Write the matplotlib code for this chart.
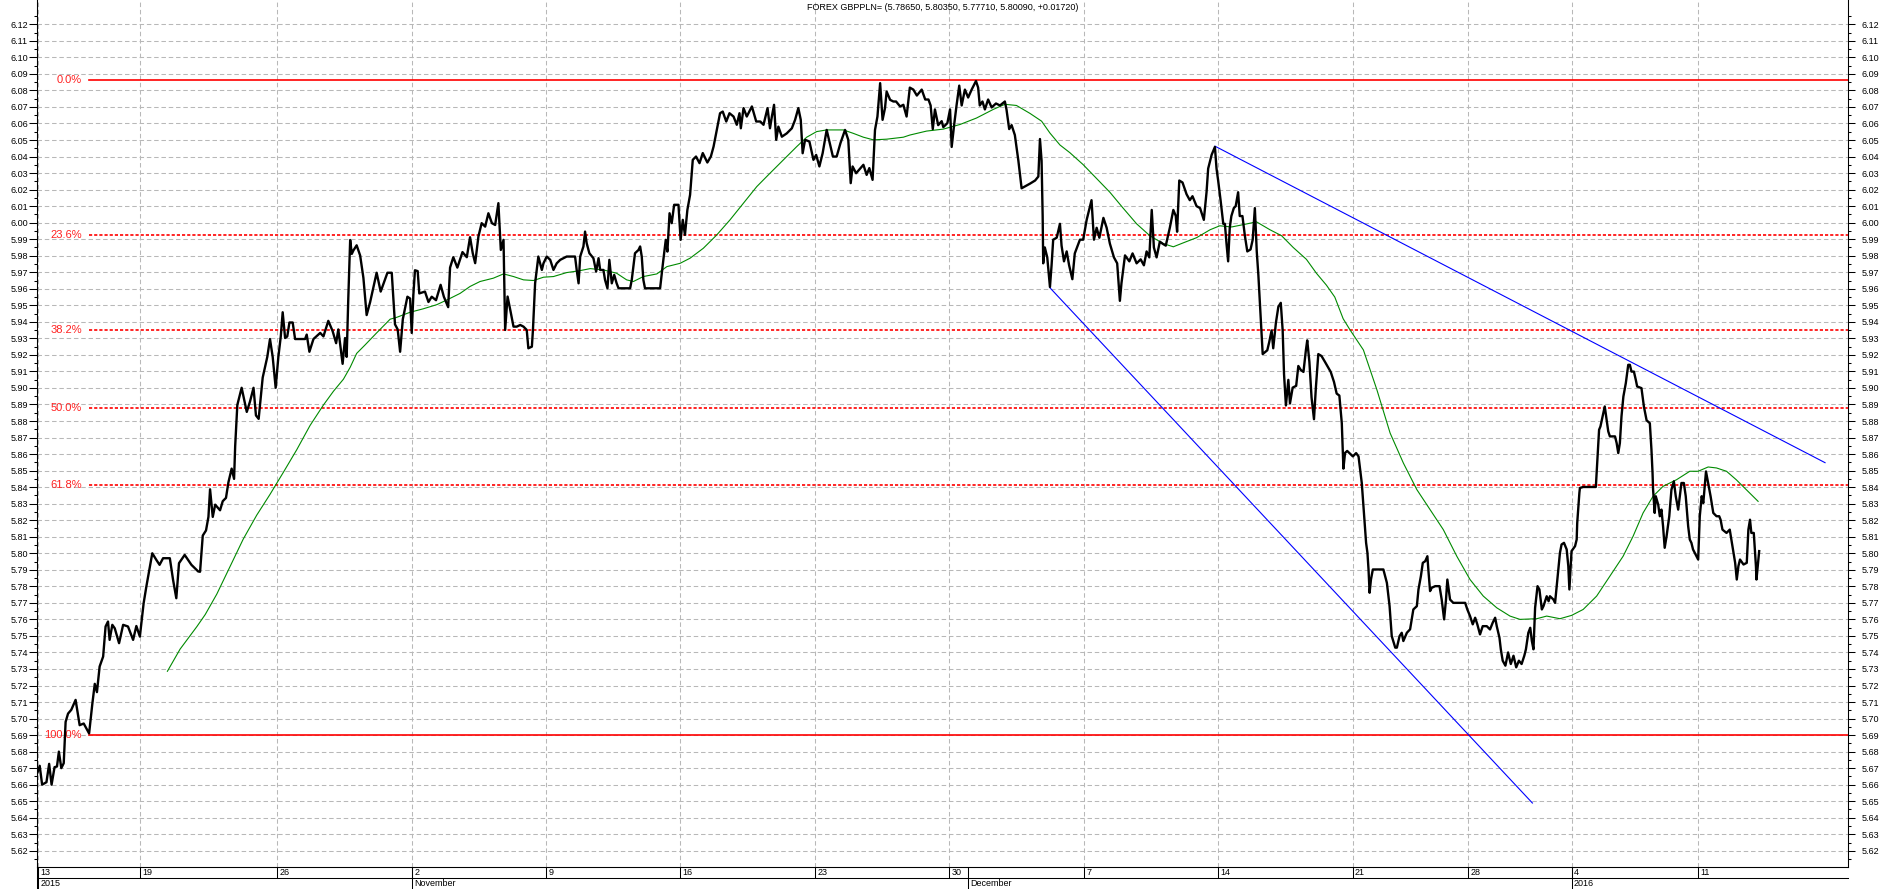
import matplotlib
matplotlib.use("Agg")
import matplotlib.pyplot as plt
import matplotlib.transforms as mtransforms
import numpy as np

plt.rcParams['font.family'] = ['Liberation Sans', 'DejaVu Sans']

# x axis is in trading-session units (0 = 13 Oct 2015)
tick_pos = [0.0, 3.79, 8.86, 13.86, 18.83, 23.79, 28.79, 33.75, 38.75, 43.71, 48.70, 52.98, 56.80, 61.50]
tick_lbl = ['13', '19', '26', '2', '9', '16', '23', '30', '7', '14', '21', '28', '4', '11']
month_pos = [0.0, 13.86, 34.46, 56.80]
month_lbl = ['2015', 'November', 'December', '2016']

title = "FOREX GBPPLN= (5.78650, 5.80350, 5.77710, 5.80090, +0.01720)"

# close price
close_x = [
    -0.04, 0.06, 0.15, 0.31, 0.41, 0.50, 0.61, 0.70, 0.77, 0.86, 0.95, 1.02, 1.11, 1.23, 1.39, 1.54,
    1.69, 1.89, 2.01, 2.10, 2.18, 2.28, 2.41, 2.50, 2.59, 2.65, 2.75, 2.84, 3.00, 3.15, 3.33, 3.52,
    3.64, 3.77, 3.91, 4.01, 4.23, 4.38, 4.50, 4.63, 4.88, 5.00, 5.12, 5.22, 5.43, 5.68, 5.93,
    6.0, 6.1, 6.22, 6.31, 6.37, 6.47, 6.56, 6.74, 6.84, 6.96, 7.05, 7.17, 7.26, 7.30, 7.38, 7.54,
    7.73, 7.85, 7.98, 8.07, 8.17, 8.32, 8.49, 8.59, 8.69, 8.80, 8.90, 8.99, 9.06, 9.15, 9.23, 9.31,
    9.43, 9.52, 9.89, 9.95, 10.05, 10.20, 10.45, 10.57, 10.75, 10.91, 11.04, 11.12, 11.28, 11.37,
    11.43, 11.49, 11.56, 11.62, 11.68, 11.80, 11.93, 12.05, 12.17, 12.30, 12.54, 12.69, 12.94,
    13.10, 13.22, 13.32, 13.41, 13.51, 13.68, 13.78, 13.84, 13.90, 13.96, 14.06, 14.12, 14.33,
    14.46, 14.58, 14.74, 14.91, 15.03, 15.19, 15.26, 15.38, 15.53, 15.72, 15.88,
    16.0, 16.1, 16.19, 16.31, 16.43, 16.56, 16.68, 16.81, 16.93, 17.05, 17.14, 17.24, 17.3, 17.39,
    17.49, 17.61, 17.73, 17.86, 17.98, 18.10, 18.16, 18.29, 18.33, 18.41, 18.53, 18.66, 18.72,
    18.84, 18.97, 19.09, 19.21, 19.34, 19.58, 19.89, 19.95, 20.02, 20.08, 20.2, 20.26, 20.32,
    20.42, 20.57, 20.67, 20.76, 20.82, 20.94, 21.0, 21.09, 21.16, 21.25, 21.34, 21.43, 21.5,
    21.93, 21.99, 22.11, 22.24, 22.30, 22.36, 22.42, 22.48, 23.04, 23.16, 23.25, 23.31, 23.39,
    23.47, 23.56, 23.72, 23.80, 23.88, 23.96, 24.05, 24.15, 24.25, 24.37, 24.50, 24.62, 24.79,
    24.92, 25.02, 25.14, 25.26, 25.36, 25.49, 25.61, 25.76, 25.88, 25.98, 26.03, 26.13, 26.25,
    26.44, 26.6, 26.75, 26.87, 27.02, 27.11, 27.18, 27.26, 27.34, 27.42, 27.55, 27.73, 27.92,
    28.04, 28.16, 28.25, 28.32, 28.41, 28.57, 28.72, 28.82, 28.94, 29.06, 29.21, 29.34, 29.44,
    29.58, 29.72, 29.89, 30.01, 30.10, 30.17, 30.30, 30.57, 30.69, 30.79, 30.91, 31.0, 31.09,
    31.19, 31.28, 31.37, 31.43, 31.56, 31.68, 31.78, 31.93, 32.05, 32.17,
    32.29, 32.42, 32.55, 32.73, 32.86, 32.98, 33.06, 33.14, 33.22, 33.34, 33.47, 33.53, 33.68,
    33.78, 33.84, 33.93, 34.02, 34.12, 34.21, 34.33, 34.45, 34.58, 34.74, 34.82, 34.88, 34.98,
    35.07, 35.19, 35.32, 35.48, 35.63, 35.81, 35.87, 35.97, 36.06, 36.18, 36.31, 36.43, 36.56,
    36.74, 36.93, 37.05, 37.11, 37.17, 37.21, 37.23, 37.29, 37.38, 37.48, 37.54, 37.60, 37.73,
    37.85, 37.91, 38.0, 38.10, 38.19, 38.31, 38.40, 38.59, 38.71, 38.84, 39.02, 39.11, 39.21,
    39.31, 39.46, 39.58, 39.70, 39.85, 39.97, 40.07, 40.13, 40.26, 40.42, 40.54, 40.69, 40.84,
    40.96, 41.06, 41.16, 41.25, 41.33, 41.43, 41.55, 41.65, 41.77, 41.92, 42.05, 42.14, 42.19,
    42.27, 42.39, 42.54, 42.66, 42.76, 42.91, 43.04, 43.18, 43.28, 43.34, 43.47, 43.59, 43.65,
    43.71, 43.80, 43.90, 43.96, 44.02, 44.08, 44.14, 44.20, 44.29, 44.36, 44.45, 44.51, 44.61,
    44.70, 44.79, 44.91, 44.99, 45.07, 45.14, 45.20, 45.29, 45.36, 45.45, 45.53, 45.60, 45.69,
    45.75, 45.85, 45.94, 46.03, 46.10, 46.15, 46.22, 46.31, 46.37, 46.47, 46.60, 46.68, 46.77,
    46.87, 46.96, 47.01, 47.09, 47.17, 47.26, 47.33, 47.42, 47.54, 47.67, 47.88, 48.0, 48.10,
    48.20, 48.29, 48.35, 48.41, 48.49,
    48.60, 48.70, 48.82, 48.91, 49.03, 49.12, 49.19, 49.24, 49.28, 49.32, 49.37, 49.44, 49.83,
    49.96, 50.06, 50.14, 50.27, 50.33, 50.43, 50.51, 50.57, 50.70, 50.82, 50.94, 51.07, 51.13,
    51.22, 51.29, 51.38, 51.46, 51.50, 51.56, 51.62, 51.75, 51.91, 51.99, 52.08, 52.15, 52.20,
    52.30, 52.42, 52.86, 52.94, 53.04, 53.14, 53.23, 53.31, 53.41, 53.51, 53.66, 53.78, 53.88,
    53.97, 54.03, 54.13, 54.18, 54.25, 54.35, 54.45, 54.55, 54.65, 54.75, 54.85, 54.95, 55.05,
    55.11, 55.20, 55.27, 55.33, 55.39, 55.45, 55.54, 55.61, 55.70, 55.76, 55.88, 55.95, 56.0,
    56.13, 56.19, 56.25, 56.31, 56.37, 56.43, 56.52, 56.62, 56.68, 56.72, 56.77, 56.80, 56.93,
    56.99, 57.01, 57.09, 57.11, 57.23, 57.70, 57.75, 57.82, 57.87, 57.95, 58.03, 58.10, 58.16,
    58.22, 58.41, 58.47, 58.53, 58.59, 58.65, 58.72, 58.81, 58.90, 58.96, 59.02, 59.11, 59.18,
    59.23, 59.39, 59.48, 59.58, 59.70, 59.76, 59.80, 59.82, 59.88, 59.92, 60.01, 60.07, 60.13,
    60.19, 60.25, 60.32, 60.42, 60.50, 60.59, 60.66, 60.75, 60.81, 60.87, 60.96, 61.03, 61.12,
    61.18, 61.24, 61.30, 61.43, 61.49, 61.55, 61.62, 61.68, 61.78, 61.86, 61.95, 62.05, 62.17,
    62.27, 62.32, 62.39, 62.54, 62.66, 62.78, 62.86, 62.92, 62.98, 63.04, 63.17, 63.29, 63.35,
    63.41, 63.46, 63.55, 63.63, 63.65, 63.71, 63.75,
]
close_y = [
    5.6666, 5.6714, 5.660, 5.6615, 5.6726, 5.660, 5.6706, 5.671, 5.680, 5.670, 5.673, 5.698, 5.703, 5.7053, 5.7113, 5.696,
    5.697, 5.691, 5.709, 5.721, 5.716, 5.7315, 5.7375, 5.7557, 5.7587, 5.7476, 5.7567, 5.7546, 5.7456, 5.7567, 5.7557, 5.7476,
    5.756, 5.7496, 5.7698, 5.7798, 5.800, 5.796, 5.793, 5.797, 5.797, 5.7839, 5.7728, 5.794, 5.799, 5.793, 5.789,
    5.7888, 5.8107, 5.8138, 5.822, 5.8387, 5.822, 5.8294, 5.826, 5.8315, 5.8335, 5.8429, 5.8512, 5.845, 5.8647, 5.8897, 5.9001,
    5.8855, 5.8918, 5.9001, 5.8834, 5.8813, 5.9063, 5.9188, 5.9296, 5.9188, 5.9001, 5.9188, 5.9312, 5.9458, 5.9302, 5.9312, 5.9396,
    5.9396, 5.9296, 5.9296, 5.9323, 5.9219, 5.9296, 5.9333, 5.9312, 5.9406, 5.9344, 5.9271, 5.9354, 5.9146, 5.9302,
    5.9188, 5.9541, 5.9895, 5.9811, 5.9832, 5.9863, 5.9801, 5.9666, 5.9441, 5.952, 5.9697, 5.9583, 5.9697,
    5.9697, 5.9385, 5.9354, 5.9219, 5.9416, 5.9552, 5.9541, 5.9333, 5.9562, 5.9712, 5.9707, 5.9572, 5.9583,
    5.952, 5.9552, 5.9531, 5.9624, 5.9552, 5.9489, 5.9728, 5.9791, 5.9728, 5.9822, 5.9791,
    5.9912, 5.9815, 5.9755, 5.9916, 5.9997, 5.9976, 6.0057, 5.9997, 5.9986, 6.0118, 5.9835, 5.9896, 5.9351, 5.9553,
    5.9472, 5.9371, 5.9371, 5.9381, 5.9371, 5.9351, 5.924, 5.925, 5.9351, 5.9633, 5.9795, 5.9714, 5.9754,
    5.9795, 5.9775, 5.9714, 5.9754, 5.9775, 5.9795, 5.9795, 5.9714, 5.9633, 5.9795, 5.9856, 5.9946, 5.9876,
    5.9815, 5.9785, 5.9704, 5.9785, 5.9714, 5.9714, 5.9654, 5.9603, 5.9775, 5.9633, 5.9684, 5.9633, 5.9603,
    5.9603, 5.9654, 5.9815, 5.9835, 5.9856, 5.9795, 5.9654, 5.9603, 5.9603, 5.9775, 5.9896, 5.9825, 6.0057,
    5.9997, 6.0108, 6.0108, 5.9896, 6.0017, 5.9926, 6.0077, 6.0168, 6.038, 6.040, 6.036, 6.0421, 6.0364,
    6.040, 6.046, 6.0561, 6.0662, 6.0672, 6.0612, 6.0662, 6.0642, 6.0592, 6.0662, 6.0571, 6.0693, 6.0642,
    6.0703, 6.0612, 6.0612, 6.0592, 6.0693, 6.0571, 6.0642, 6.0713, 6.0501, 6.0581, 6.052, 6.054, 6.0571,
    6.0622, 6.0693, 6.0622, 6.042, 6.0501, 6.0491, 6.038, 6.041, 6.034, 6.042, 6.0561, 6.0471, 6.040,
    6.040, 6.0481, 6.0561, 6.0501, 6.0239, 6.034, 6.0299, 6.035, 6.0289, 6.033, 6.0259, 6.0561, 6.0642,
    6.0844, 6.0622, 6.0693, 6.0793, 6.0743, 6.0733, 6.0733, 6.0703, 6.0713, 6.0642,
    6.0817, 6.0805, 6.0769, 6.0805, 6.0745, 6.0745, 6.0709, 6.0566, 6.0685, 6.059, 6.0614, 6.0578, 6.0602,
    6.0685, 6.0458, 6.059, 6.0709, 6.0829, 6.0709, 6.0805, 6.0757, 6.0805, 6.0857, 6.0817, 6.0709, 6.0733,
    6.0685, 6.0745, 6.0697, 6.0721, 6.0709, 6.0733, 6.0685, 6.0566, 6.059, 6.053, 6.0375, 6.0208, 6.022,
    6.0236, 6.0255, 6.0279, 6.0506, 6.0375, 6.004, 5.9754, 5.985, 5.979, 5.9611, 5.9742, 5.9897, 5.9909,
    5.9993, 5.9861, 5.9766, 5.9826, 5.9742, 5.9658, 5.9814, 5.9897, 5.9897, 6.0017, 6.0136, 5.9897, 5.9969,
    5.9909, 6.0029, 5.9969, 5.9873, 5.979, 5.9754, 5.9527, 5.9635, 5.9802, 5.9766, 5.9814, 5.9754, 5.9778,
    5.9742, 5.9826, 5.979, 6.0077, 5.985, 5.979, 5.9885, 5.9873, 5.9861, 5.9969, 6.0077, 6.0041, 5.9945,
    6.0255, 6.0243, 6.0172, 6.0136, 6.016, 6.010, 6.0088, 6.0017, 6.0184, 6.0327, 6.0411, 6.0458, 6.0327,
    6.0255, 6.0136, 5.9993, 5.9993, 5.9873, 5.9766, 5.9969, 6.004, 6.0088, 6.010, 6.0184, 6.004, 6.004,
    5.9921, 5.9826, 5.9838, 5.9897, 6.0088, 5.9826, 5.9682, 5.9419, 5.9205, 5.9217, 5.9228, 5.9276, 5.9348,
    5.924, 5.9395, 5.9491, 5.9515, 5.9348, 5.9085, 5.8894, 5.9049, 5.8906, 5.9002, 5.9013, 5.9133, 5.9109,
    5.9097, 5.9228, 5.9288, 5.9157, 5.8942, 5.8811, 5.9002, 5.9205, 5.9193, 5.9157, 5.9097, 5.9037, 5.8966,
    5.8954, 5.8787, 5.8512, 5.8607, 5.8619,
    5.8602, 5.8586, 5.8606, 5.8586, 5.8425, 5.8224, 5.8063, 5.8002, 5.7902, 5.7761, 5.7841, 5.7902, 5.7902,
    5.7821, 5.768, 5.7499, 5.7429, 5.7429, 5.7499, 5.7519, 5.7469, 5.7519, 5.754, 5.766, 5.768, 5.7781,
    5.7862, 5.7942, 5.7952, 5.7982, 5.7892, 5.7771, 5.7791, 5.7801, 5.7801, 5.772, 5.760, 5.772, 5.7841,
    5.772, 5.770, 5.770, 5.766, 5.762, 5.757, 5.761, 5.757, 5.7509, 5.7559, 5.7559, 5.7539, 5.758,
    5.761, 5.7559, 5.7489, 5.7419, 5.735, 5.732, 5.740, 5.733, 5.738, 5.731, 5.735, 5.733, 5.738,
    5.7419, 5.7519, 5.7549, 5.7469, 5.7419, 5.767, 5.7801, 5.7781, 5.766, 5.768, 5.774, 5.771, 5.774,
    5.772, 5.770, 5.7801, 5.7902, 5.8002, 5.8053, 5.8063, 5.8023, 5.7922, 5.7781, 5.7922, 5.8013, 5.8043,
    5.8083, 5.8183, 5.8365, 5.8395, 5.8401, 5.8401, 5.8546, 5.8747, 5.8767, 5.8828, 5.8888, 5.8808, 5.8737,
    5.8707, 5.8707, 5.8667, 5.8606, 5.8667, 5.8828, 5.8948, 5.9029, 5.914, 5.914, 5.9099, 5.9099, 5.9049,
    5.9009, 5.8999, 5.8888, 5.8804, 5.8787, 5.8626, 5.8486, 5.8385, 5.8244, 5.8345, 5.8294, 5.8224, 5.8264,
    5.8163, 5.8033, 5.8103, 5.8224, 5.8385, 5.8435, 5.8345, 5.8264, 5.8345, 5.8425, 5.8425, 5.8345, 5.8163,
    5.8083, 5.8063, 5.8023, 5.7982, 5.7962, 5.8224, 5.8345, 5.8304, 5.8495, 5.8425, 5.8345, 5.8244, 5.8224,
    5.8224, 5.8203, 5.8143, 5.8123, 5.8143, 5.8023, 5.7942, 5.7841, 5.7922, 5.7962, 5.7932, 5.7942, 5.8143,
    5.8203, 5.8123, 5.8123, 5.7922, 5.7841, 5.7942, 5.8013,
]

# moving average (green)
ma_x = [
    4.79, 5.26, 5.88, 6.19, 6.62, 7.11, 7.60, 8.10, 8.59, 9.09, 9.58, 10.07, 10.57, 10.94, 11.31, 11.56,
    11.80, 12.11, 12.54, 13.04, 13.28, 13.78, 14.27, 14.77, 15.20, 15.63, 16.0, 16.37, 16.86, 17.24,
    17.61, 17.98, 18.35, 18.72, 19.09, 19.58, 20.08, 20.45, 20.94, 21.43, 21.8, 22.05, 22.42, 22.92,
    23.29, 23.78, 24.15, 24.64, 25.14, 25.63, 26.13, 26.62, 27.11, 27.61, 28.1, 28.47, 28.84, 29.21,
    29.83, 30.2, 30.57, 30.94, 31.43, 32.05, 32.29, 32.91, 33.53, 34.15, 34.76, 35.38, 35.81, 36.24,
    36.74, 37.17, 37.48, 37.85, 38.22, 38.71, 39.21, 39.70, 40.19, 40.69, 41.18, 41.68, 42.05, 42.42,
    42.91, 43.41, 43.77, 44.21, 44.64, 45.13, 45.63, 46.06, 46.49, 46.98, 47.35, 47.72, 48.03, 48.34,
    48.6, 49.09, 49.59, 50.08, 50.57, 51.07, 51.56, 52.05, 52.55, 53.04, 53.53, 54.03, 54.52, 54.89,
    55.51, 55.88, 56.37, 56.80, 57.23, 57.73, 58.22, 58.71, 59.08, 59.45, 59.82, 60.19, 60.69, 61.18,
    61.49, 61.86, 62.17, 62.54, 62.90, 63.27, 63.71,
]
ma_y = [
    5.7286, 5.742, 5.7556, 5.7629, 5.7753, 5.792, 5.8086, 5.8231, 5.8356, 5.8491, 5.8626, 5.8772, 5.8897, 5.898, 5.9053, 5.9125,
    5.9209, 5.926, 5.9333, 5.9416, 5.9427, 5.9458, 5.9479, 5.9504, 5.9537, 5.9572, 5.9614, 5.9644, 5.9664, 5.969,
    5.9674, 5.9654, 5.965, 5.967, 5.9674, 5.9698, 5.971, 5.9722, 5.9714, 5.9694, 5.9654, 5.9644, 5.9674, 5.969,
    5.9734, 5.9754, 5.9785, 5.9845, 5.9926, 6.0017, 6.0118, 6.0218, 6.0299, 6.038, 6.046, 6.0517, 6.0551, 6.0561,
    6.0561, 6.054, 6.0517, 6.0501, 6.0505, 6.0517, 6.053, 6.0554, 6.0566, 6.0594, 6.0633, 6.0685, 6.0716, 6.0709,
    6.0661, 6.0614, 6.0542, 6.047, 6.0423, 6.0351, 6.0267, 6.0184, 6.0088, 5.9993, 5.9921, 5.9873, 5.9854, 5.9878,
    5.9909, 5.9957, 5.9981, 5.9974, 5.9988, 6.0005, 5.9957, 5.9921, 5.985, 5.9778, 5.9694, 5.9622, 5.955, 5.9419,
    5.935, 5.923, 5.8989, 5.8727, 5.8546, 5.8385, 5.8264, 5.8143, 5.7982, 5.7841, 5.7741, 5.767, 5.762, 5.760,
    5.7604, 5.762, 5.7604, 5.7624, 5.766, 5.7741, 5.7862, 5.7982, 5.8103, 5.8244, 5.8345, 5.8405, 5.8445, 5.8496,
    5.8496, 5.8522, 5.8516, 5.8496, 5.8445, 5.8385, 5.8314,
]

# trend lines (start, end)
upper_x = [43.59, 66.19]
upper_y = [6.0463, 5.8548]
lower_x = [37.48, 55.35]
lower_y = [5.9606, 5.6489]

# fibonacci retracement
fib_start = 1.89
fib_lvl = [6.0862, 5.9927, 5.9349, 5.8881, 5.8413, 5.6900]
fib_lbl = ['0.0%', '23.6%', '38.2%', '50.0%', '61.8%', '100.0%']
fib_solid = [True, False, False, False, False, True]

y_ticks = np.round(np.arange(5.62, 6.1201, 0.01), 2)
y_minor = np.round(np.arange(5.615, 6.1251, 0.01), 3)


def main():
    W, H = 1883, 889
    fig = plt.figure(figsize=(W / 100, H / 100), dpi=100)
    ax = fig.add_axes([37 / W, 22 / H, 1811 / W, 867 / H])

    xmin, xmax = -0.04, 67.04
    ymin, ymax = 5.6102, 6.1347
    ax.set_xlim(xmin, xmax)
    ax.set_ylim(ymin, ymax)

    grid_kw = dict(color='#b8b8b8', lw=0.75, ls=(0, (4.3, 2.7)))
    ax.set_xticks(tick_pos)
    ax.set_yticks(y_ticks)
    ax.set_yticks(y_minor, minor=True)
    ax.grid(True, which='major', **grid_kw)
    ax.set_axisbelow(True)

    ax.set_yticklabels([f"{v:.2f}" for v in y_ticks])
    ax.tick_params(axis='x', length=0, labelbottom=False)
    ax.tick_params(axis='y', which='major', direction='out', length=5.5, width=0.75,
                   pad=1, labelsize=6.5)
    ax.tick_params(axis='y', which='minor', direction='out', length=2.2, width=0.75)

    # right hand axis
    ax2 = ax.twinx()
    ax2.set_ylim(ymin, ymax)
    ax2.set_yticks(y_ticks)
    ax2.set_yticks(y_minor, minor=True)
    ax2.set_yticklabels([f"{v:.2f}" for v in y_ticks])
    ax2.tick_params(axis='y', which='major', direction='out', length=5, width=0.75,
                    pad=5, labelsize=6.5)
    ax2.tick_params(axis='y', which='minor', direction='out', length=2.2, width=0.75)

    for a in (ax, ax2):
        a.spines['top'].set_visible(False)
        for s in ('left', 'right', 'bottom'):
            a.spines[s].set_linewidth(0.75)
            a.spines[s].set_color('black')

    # fibonacci lines
    for lvl, lbl, solid in zip(fib_lvl, fib_lbl, fib_solid):
        ls = '-' if solid else (0, (1.9, 1.2))
        ax.plot([fib_start, xmax], [lvl, lvl], color='#ff0000', lw=1.2, ls=ls, zorder=3)
        ax.text(fib_start - 0.26, lvl, lbl, color='#ff2020', fontsize=8,
                ha='right', va='center', zorder=4)

    ax.plot(ma_x, ma_y, color='#008a00', lw=0.8, zorder=4)
    ax.plot(upper_x, upper_y, color='#0000ff', lw=0.8, zorder=4)
    ax.plot(lower_x, lower_y, color='#0000ff', lw=0.8, zorder=4)
    ax.plot(close_x, close_y, color='black', lw=1.7, zorder=5)

    ax.text(0.5, 1 - 7 / 867, title, transform=ax.transAxes, ha='center', va='center',
            fontsize=6.5)

    # date rows below the chart
    r1 = -11 / 867
    r2 = -22 / 867
    trans = mtransforms.blended_transform_factory(ax.transData, ax.transAxes)
    line_kw = dict(color='black', lw=0.75, clip_on=False)
    ax.plot([0, 1], [r1, r1], transform=ax.transAxes, **line_kw)
    ax.plot([0, 0], [r2, 0], transform=ax.transAxes, **line_kw)
    ax.vlines(tick_pos, r1, 0, transform=trans, colors='black', lw=0.75, clip_on=False)
    ax.vlines(month_pos, r2, 0, transform=trans, colors='black', lw=0.75, clip_on=False)

    for p, t in zip(tick_pos, tick_lbl):
        ax.annotate(t, xy=(p, r1 / 2), xycoords=trans, xytext=(1.5, 0),
                    textcoords='offset points', ha='left', va='center', fontsize=6.5,
                    annotation_clip=False)
    for p, t in zip(month_pos, month_lbl):
        ax.annotate(t, xy=(p, (r1 + r2) / 2), xycoords=trans, xytext=(1.5, 0),
                    textcoords='offset points', ha='left', va='center', fontsize=6.5,
                    annotation_clip=False)

    fig.savefig('out.png', dpi=100)


if __name__ == "__main__":
    main()
